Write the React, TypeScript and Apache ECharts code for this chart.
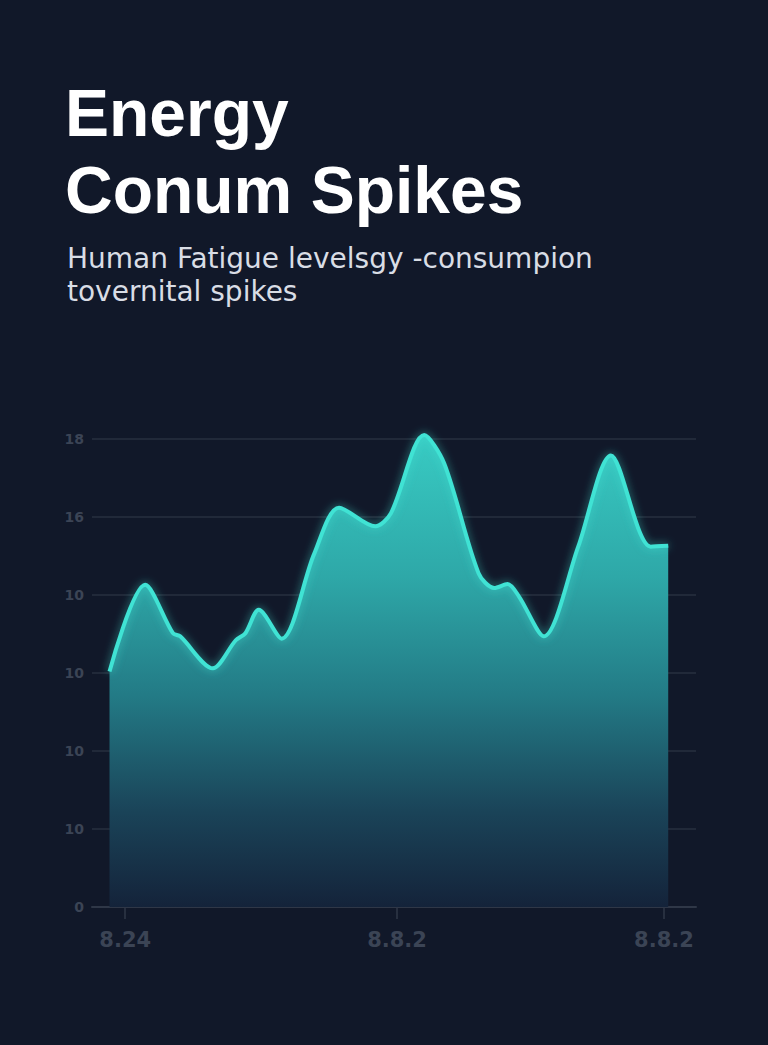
import React, { useEffect, useRef } from "react";
import * as echarts from "echarts";

const titleLines = ["Energy", "Conum Spikes"];
const subtitleLines = ["Human Fatigue levelsgy -consumpion", "tovernital spikes"];

const xValues = [2.9, 8.8, 13.4, 14.6, 20.0, 23.8, 25.4, 27.6, 31.4, 36.8, 40.9, 46.9, 49.5, 55.0, 58.3, 64.0, 66.6, 68.8, 70.7, 74.8, 80.5, 85.9, 92.5, 95.4];
const yValues = [30.2, 41.3, 35.1, 34.7, 30.6, 34.2, 35.1, 38.1, 34.4, 45.3, 51.2, 48.8, 50.5, 60.5, 56.9, 42.8, 40.9, 41.4, 39.8, 34.7, 46.2, 57.9, 46.2, 46.3];

const xTickValues = [5.5, 50.5, 94.7];
const xTickLabels = ["8.24", "8.8.2", "8.8.2"];
const yTickLabels = ["0", "10", "10", "10", "10", "16", "18"];

export default function App() {
  const ref = useRef<HTMLDivElement>(null);
  useEffect(() => {
    if (!ref.current) return;
    const chart = echarts.init(ref.current, undefined, { renderer: "svg" });
    const data = xValues.map((x, i) => [x, yValues[i]]);
    chart.setOption({
      animation: false,
      backgroundColor: "#111829",
      title: [
        {
          text: titleLines.join("\n"),
          left: 60,
          top: 69,
          textStyle: {
            color: "#ffffff",
            fontSize: 66,
            fontWeight: "bold",
            fontFamily: "Liberation Sans",
            lineHeight: 77,
          },
        },
        {
          text: subtitleLines.join("\n"),
          left: 62,
          top: 237,
          textStyle: {
            color: "#d9dde5",
            fontSize: 28,
            fontWeight: "normal",
            fontFamily: "DejaVu Sans",
            lineHeight: 33,
          },
        },
      ],
      grid: { left: 92, right: 72, top: 439, bottom: 138 },
      xAxis: {
        type: "value",
        min: 0,
        max: 100,
        axisLine: { show: true, lineStyle: { color: "#2f3747", width: 2 } },
        axisTick: {
          show: true,
          customValues: xTickValues,
          length: 12,
          lineStyle: { color: "#2f3747", width: 1.5 },
        },
        axisLabel: {
          customValues: xTickValues,
          formatter: (v: number) => {
            const i = xTickValues.indexOf(v);
            return i >= 0 ? xTickLabels[i] : "";
          },
          color: "#3b4455",
          fontSize: 21,
          fontWeight: "bold",
          fontFamily: "DejaVu Sans",
          margin: 22,
        },
        splitLine: { show: false },
      },
      yAxis: {
        type: "value",
        min: 0,
        max: 60,
        interval: 10,
        axisLine: { show: false },
        axisTick: { show: false },
        axisLabel: {
          formatter: (v: number) => yTickLabels[Math.round(v / 10)] ?? "",
          color: "#3b4455",
          fontSize: 14,
          fontWeight: "bold",
          fontFamily: "DejaVu Sans",
          margin: 8,
        },
        splitLine: { lineStyle: { color: "#212939", width: 2 } },
      },
      series: [
        {
          type: "line",
          data,
          smooth: 0.3,
          symbol: "none",
          clip: false,
          lineStyle: {
            color: "#3fe3d4",
            width: 4,
            shadowColor: "rgba(63,227,212,0.6)",
            shadowBlur: 8,
          },
          areaStyle: {
            opacity: 1,
            color: new echarts.graphic.LinearGradient(0, 0, 0, 1, [
              { offset: 0, color: "#38cbc3" },
              { offset: 0.3, color: "#2ea8a8" },
              { offset: 0.55, color: "#237b86" },
              { offset: 0.8, color: "#1a4358" },
              { offset: 1, color: "#14233a" },
            ]),
          },
        },
      ],
    });
    return () => chart.dispose();
  }, []);
  return (
    <div
      ref={ref}
      style={{ position: "fixed", left: 0, top: 0, width: 768, height: 1045 }}
    />
  );
}
